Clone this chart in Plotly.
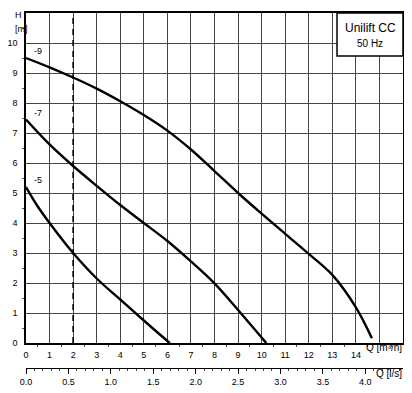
import plotly.graph_objects as go

# Pump curves (Q in m3/h, H in m)
q_9 = [0, 1, 2, 3, 4, 5, 6, 7, 8, 9, 10, 11, 12, 13, 14, 14.68]
h_9 = [9.5, 9.19, 8.85, 8.48, 8.06, 7.6, 7.08, 6.45, 5.73, 5.0, 4.31, 3.64, 2.97, 2.27, 1.19, 0.16]
q_7 = [0, 1, 2, 3, 4, 5, 6, 7, 8, 9, 10, 10.2]
h_7 = [7.45, 6.62, 5.9, 5.24, 4.6, 4.0, 3.4, 2.72, 1.99, 1.1, 0.18, 0.0]
q_5 = [0, 0.5, 1, 2, 3, 4, 5, 6.1]
h_5 = [5.2, 4.55, 4.0, 3.0, 2.15, 1.45, 0.75, 0.0]

curve_names = ["-9", "-7", "-5"]
x_ticks = list(range(0, 17))
x_ticktext = [str(v) if v <= 14 else "" for v in x_ticks]
y_ticks = list(range(0, 12))
y_ticktext = [str(v) if v <= 10 else "" for v in y_ticks]
ls_ticks = [0, 0.5, 1.0, 1.5, 2.0, 2.5, 3.0, 3.5, 4.0]
ls_ticktext = ["0.0", "0.5", "1.0", "1.5", "2.0", "2.5", "3.0", "3.5", "4.0"]
dash_q = 2

XMAX, YMAX = 16, 11
font = "Liberation Sans, Arial, sans-serif"

# page body adds an 8px margin, so the figure is 8px smaller
W, H = 404, 385
ML, MR, MT, MB = 18, 9, 5, 0
PH = H - MT - MB


def py(screen_y):
    return (H - (screen_y - 8)) / PH


def pxx(screen_x):
    return (screen_x - 8 - ML) / (W - ML - MR)


fig = go.Figure()
for q, h in [(q_9, h_9), (q_7, h_7), (q_5, h_5)]:
    fig.add_trace(go.Scatter(x=q, y=h, mode="lines",
                             line=dict(color="black", width=2.4, shape="spline", smoothing=1.0),
                             showlegend=False, hoverinfo="skip"))
fig.add_trace(go.Scatter(x=[dash_q, dash_q], y=[0, YMAX], mode="lines",
                         line=dict(color="black", width=1.6, dash="6px,5px"),
                         showlegend=False, hoverinfo="skip"))
# invisible trace for l/s axis
fig.add_trace(go.Scatter(x=[0, XMAX / 3.6], y=[0, 0], xaxis="x2", mode="lines",
                         line=dict(width=0), showlegend=False, hoverinfo="skip"))

for name, h0 in zip(curve_names, [h_9[0], h_7[0], h_5[0]]):
    fig.add_annotation(x=0.5, y=h0 + 0.22, xref="x", yref="y", text=name, showarrow=False,
                       font=dict(family=font, size=9, color="black"))

# Title box
fig.add_shape(type="rect", x0=13.2, x1=XMAX, y0=9.57, y1=YMAX, xref="x", yref="y",
              fillcolor="white", line=dict(color="black", width=1.5), layer="above")
fig.add_annotation(x=14.6, y=10.5, xref="x", yref="y", text="Unilift CC", showarrow=False,
                   font=dict(family=font, size=12, color="black"))
fig.add_annotation(x=14.6, y=9.98, xref="x", yref="y", text="50 Hz", showarrow=False,
                   font=dict(family=font, size=10, color="black"))

fig.add_annotation(x=pxx(13), y=py(8), xref="paper", yref="paper", text="H", showarrow=False,
                   yanchor="top", font=dict(family=font, size=9, color="black"))
fig.add_annotation(x=pxx(13), y=py(22), xref="paper", yref="paper", text="[m]", showarrow=False,
                   font=dict(family=font, size=9, color="black"))
fig.add_annotation(x=pxx(404), y=py(355), xref="paper", yref="paper", text="Q [m³/h]",
                   showarrow=False, xanchor="right", font=dict(family=font, size=10, color="black"))
fig.add_annotation(x=pxx(404), y=py(381), xref="paper", yref="paper", text="Q [l/s]",
                   showarrow=False, xanchor="right", font=dict(family=font, size=10, color="black"))

ydom0 = py(343)
fig.update_layout(
    width=W, height=H,
    margin=dict(l=ML, r=MR, t=MT, b=MB, autoexpand=False),
    paper_bgcolor="white", plot_bgcolor="white",
    xaxis=dict(range=[0, XMAX], tickvals=x_ticks, ticktext=x_ticktext, automargin=False,
               showgrid=True, gridcolor="#444", gridwidth=1.3,
               showline=True, linecolor="black", linewidth=1.6, mirror=True,
               ticks="outside", ticklen=0, zeroline=False, ticklabelstandoff=2,
               minor=dict(tickvals=[v + 0.5 for v in range(16)], ticks="outside", ticklen=2,
                          tickcolor="#555", showgrid=False),
               tickfont=dict(family=font, size=9, color="black"), anchor="y"),
    yaxis=dict(range=[0, YMAX], tickvals=y_ticks, ticktext=y_ticktext, domain=[ydom0, 1],
               automargin=False,
               showgrid=True, gridcolor="#444", gridwidth=1.3,
               showline=True, linecolor="black", linewidth=1.6, mirror=True,
               ticks="outside", ticklen=0, zeroline=False, ticklabelstandoff=5,
               minor=dict(tickvals=[v + 0.5 for v in range(11)], ticks="outside", ticklen=2,
                          tickcolor="#555", showgrid=False),
               tickfont=dict(family=font, size=9, color="black")),
    xaxis2=dict(range=[0, XMAX / 3.6], overlaying="x", anchor="free", position=py(368),
                side="bottom", tickvals=ls_ticks, ticktext=ls_ticktext, automargin=False,
                showline=True, linecolor="black", linewidth=1.2, showgrid=False, zeroline=False,
                ticks="outside", ticklen=5, tickcolor="black",
                minor=dict(dtick=0.1, tick0=0, ticks="outside", ticklen=2, tickcolor="#444"),
                tickfont=dict(family=font, size=9, color="black")),
)

fig.write_html("out.html")
